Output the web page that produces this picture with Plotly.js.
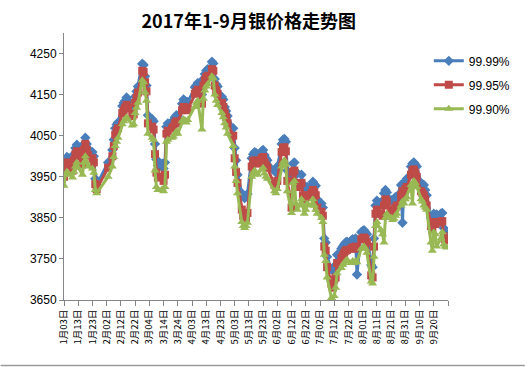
<!DOCTYPE html>
<html>
<head>
<meta charset="utf-8">
<script src="https://cdn.plot.ly/plotly-3.0.1.min.js"></script>
<style>html,body{margin:0;padding:0;background:#fff}#chart{width:528px;height:367px}</style>
</head>
<body>
<div id="chart"></div>
<script>
var tradeDates = [
"2017-01-03","2017-01-04","2017-01-05","2017-01-06","2017-01-09","2017-01-10","2017-01-11","2017-01-12","2017-01-13","2017-01-16","2017-01-17","2017-01-18","2017-01-19","2017-01-20","2017-01-23","2017-01-24","2017-01-25","2017-01-26",
"2017-02-03","2017-02-06","2017-02-07","2017-02-08","2017-02-09","2017-02-10","2017-02-13","2017-02-14","2017-02-15","2017-02-16","2017-02-17","2017-02-20","2017-02-21","2017-02-22","2017-02-23","2017-02-24","2017-02-27","2017-02-28",
"2017-03-01","2017-03-02","2017-03-03","2017-03-06","2017-03-07","2017-03-08","2017-03-09","2017-03-10","2017-03-13","2017-03-14","2017-03-15","2017-03-16","2017-03-17","2017-03-20","2017-03-21","2017-03-22","2017-03-23","2017-03-24","2017-03-27","2017-03-28","2017-03-29","2017-03-30","2017-03-31",
"2017-04-05","2017-04-06","2017-04-07","2017-04-10","2017-04-11","2017-04-12","2017-04-13","2017-04-14","2017-04-17","2017-04-18","2017-04-19","2017-04-20","2017-04-21","2017-04-24","2017-04-25","2017-04-26","2017-04-27","2017-04-28",
"2017-05-02","2017-05-03","2017-05-04","2017-05-05","2017-05-08","2017-05-09","2017-05-10","2017-05-11","2017-05-12","2017-05-15","2017-05-16","2017-05-17","2017-05-18","2017-05-19","2017-05-22","2017-05-23","2017-05-24","2017-05-25","2017-05-26","2017-05-31",
"2017-06-01","2017-06-02","2017-06-05","2017-06-06","2017-06-07","2017-06-08","2017-06-09","2017-06-12","2017-06-13","2017-06-14","2017-06-15","2017-06-16","2017-06-19","2017-06-20","2017-06-21","2017-06-22","2017-06-23","2017-06-26","2017-06-27","2017-06-28","2017-06-29","2017-06-30",
"2017-07-03","2017-07-04","2017-07-05","2017-07-06","2017-07-07","2017-07-10","2017-07-11","2017-07-12","2017-07-13","2017-07-14","2017-07-17","2017-07-18","2017-07-19","2017-07-20","2017-07-21","2017-07-24","2017-07-25","2017-07-26","2017-07-27","2017-07-28","2017-07-31",
"2017-08-01","2017-08-02","2017-08-03","2017-08-04","2017-08-07","2017-08-08","2017-08-09","2017-08-10","2017-08-11","2017-08-14","2017-08-15","2017-08-16","2017-08-17","2017-08-18","2017-08-21","2017-08-22","2017-08-23","2017-08-24","2017-08-25","2017-08-28","2017-08-29","2017-08-30","2017-08-31",
"2017-09-01","2017-09-04","2017-09-05","2017-09-06","2017-09-07","2017-09-08","2017-09-11","2017-09-12","2017-09-13","2017-09-14","2017-09-15","2017-09-18","2017-09-19","2017-09-20","2017-09-21","2017-09-22","2017-09-25","2017-09-26","2017-09-27","2017-09-28","2017-09-29"
];

var ag9999 = [
3958,3990,3998,3995,3985,4005,4020,4028,4015,3995,4030,4045,4030,4018,4010,4000,3945,3930,
3985,4015,4040,4068,4077,4082,4122,4130,4135,4143,4135,4112,4118,4145,4158,4170,4225,4222,
4195,4172,4100,4090,4085,4030,3992,3978,3982,3970,3985,4072,4080,4082,4088,4095,4100,4098,4128,4138,4135,4130,4132,
4168,4172,4178,4150,4188,4200,4208,4212,4230,4226,4188,4175,4170,4145,4138,4120,4110,4098,
4068,4020,3990,3955,3910,3905,3898,3902,3908,3995,4005,4010,4008,4003,4012,4015,4003,3995,3990,3965,
3960,3975,4030,4040,4042,4035,3965,3950,3982,3985,3962,3958,3955,3925,3928,3922,3925,3930,3938,3932,3928,3895,
3885,3875,3800,3790,3755,3725,3722,3730,3735,3760,3775,3780,3785,3790,3792,3795,3798,3795,3800,3712,3815,
3818,3820,3815,3810,3735,3730,3800,3880,3892,3888,3890,3910,3918,3912,3893,3890,3895,3900,3902,3930,3838,3935,3940,
3945,3975,3982,3985,3980,3975,3935,3932,3930,3918,3905,3850,3845,3860,3855,3858,3860,3862,3825,3815,3810
];

var ag9995 = [
3950,3978,3985,3982,3965,3990,4005,4012,4000,3980,4015,4030,4015,4002,3995,3985,3932,3920,
3972,4000,4025,4052,4062,4068,4105,4112,4118,4125,4118,4098,4102,4130,4142,4155,4208,4205,
4180,4158,4080,4072,4065,4005,3960,3948,3950,3940,3955,4055,4062,4068,4072,4080,4085,4082,4112,4120,4118,4112,4115,
4152,4156,4162,4128,4172,4185,4192,4196,4212,4208,4172,4160,4152,4130,4120,4105,4095,4080,
4050,3995,3962,3935,3870,3855,3845,3850,3862,3975,3988,3990,3988,3982,3995,3998,3985,3978,3972,3930,
3925,3940,4010,4020,4022,4012,3940,3875,3962,3965,3935,3925,3935,3905,3895,3900,3905,3910,3918,3912,3905,3875,
3865,3855,3780,3770,3730,3690,3680,3700,3705,3740,3752,3758,3765,3770,3772,3775,3778,3775,3780,3778,3798,
3800,3802,3798,3790,3710,3705,3780,3860,3870,3860,3855,3880,3895,3890,3870,3862,3868,3875,3880,3905,3915,3912,3920,
3925,3955,3965,3968,3960,3950,3915,3910,3905,3895,3880,3830,3820,3840,3835,3838,3840,3842,3805,3798,3795
];

var ag9990 = [
3928,3955,3962,3958,3948,3962,3975,3985,3972,3955,3985,4000,3985,3975,3970,3960,3918,3910,
3950,3975,3998,4025,4035,4045,4078,4085,4090,4095,4090,4075,4078,4105,4118,4130,4185,4180,
4155,4135,4055,4045,4040,3965,3925,3918,3920,3915,3925,4035,4040,4045,4048,4055,4060,4055,4085,4090,4088,4082,4088,
4120,4130,4135,4065,4140,4160,4170,4175,4195,4190,4150,4135,4125,4105,4095,4080,4070,4055,
4025,3975,3940,3910,3840,3830,3825,3830,3838,3950,3960,3965,3960,3955,3968,3972,3958,3950,3945,3915,
3910,3920,3975,3985,3990,3980,3915,3862,3935,3940,3885,3870,3895,3880,3860,3870,3885,3880,3895,3880,3870,3860,
3850,3840,3760,3745,3705,3655,3650,3660,3680,3715,3728,3735,3740,3745,3748,3740,3745,3740,3745,3742,3775,
3778,3780,3775,3765,3695,3690,3755,3830,3840,3820,3810,3790,3850,3860,3850,3845,3848,3855,3860,3880,3890,3885,3895,
3900,3930,3885,3940,3935,3925,3895,3890,3880,3875,3870,3790,3770,3815,3810,3780,3800,3815,3785,3780,3778
];

var seriesNames = ["99.99%", "99.95%", "99.90%"];

var tickDates = ["2017-01-03","2017-01-13","2017-01-23","2017-02-02","2017-02-12","2017-02-22","2017-03-04","2017-03-14","2017-03-24","2017-04-03","2017-04-13","2017-04-23","2017-05-03","2017-05-13","2017-05-23","2017-06-02","2017-06-12","2017-06-22","2017-07-02","2017-07-12","2017-07-22","2017-08-01","2017-08-11","2017-08-21","2017-08-31","2017-09-10","2017-09-20","2017-09-30"];
var tickLabels = ["1月03日","1月13日","1月23日","2月02日","2月12日","2月22日","3月04日","3月14日","3月24日","4月03日","4月13日","4月23日","5月03日","5月13日","5月23日","6月02日","6月12日","6月22日","7月02日","7月12日","7月22日","8月01日","8月11日","8月21日","8月31日","9月10日","9月20日",""];

var styles = [
  {color:"#4A7EBB", symbol:"diamond", size:8},
  {color:"#BE4B48", symbol:"square", size:8},
  {color:"#98B954", symbol:"triangle-up", size:8}
];
var values = [ag9999, ag9995, ag9990];

var traces = values.map(function(v, i){
  return {
    x: tradeDates, y: v, name: seriesNames[i], type: "scatter", mode: "lines+markers",
    legendgroup: "g" + i,
    line: {color: styles[i].color, width: 3},
    marker: {color: styles[i].color, symbol: styles[i].symbol, size: styles[i].size, line: {width: 0}}
  };
});

var layout = {
  width: 528, height: 367,
  margin: {l: 64, r: 76, t: 33, b: 67},
  paper_bgcolor: "#fff", plot_bgcolor: "#fff",
  title: {text: "2017年1-9月银价格走势图", font: {family: "Noto Sans CJK SC", size: 18, color: "#000", weight: "bold"},
          x: 0.481, xanchor: "center", xref: "paper", y: 0.94, yanchor: "middle", yref: "container"},
  xaxis: {
    type: "date", range: ["2017-01-03", "2017-09-30"],
    tickmode: "array", tickvals: tickDates, ticktext: tickLabels, tickangle: -90,
    ticks: "outside", ticklen: 5, tickcolor: "#868686", showline: true, linecolor: "#868686", linewidth: 1,
    showgrid: false, zeroline: false,
    tickfont: {family: "Noto Sans CJK SC", size: 9.5, color: "#000"}
  },
  yaxis: {
    range: [3650, 4300], tickvals: [3650,3750,3850,3950,4050,4150,4250],
    ticks: "outside", ticklen: 4, tickcolor: "#868686", showline: true, linecolor: "#868686", linewidth: 1,
    showgrid: false, zeroline: false,
    tickfont: {family: "Liberation Sans", size: 12, color: "#000"}
  },
  legend: {x: 0.95, xanchor: "left", y: 0.95, yanchor: "top", font: {family: "Liberation Sans", size: 12, color: "#000"},
           tracegroupgap: 5, itemwidth: 30, bgcolor: "rgba(0,0,0,0)"},
  shapes: [{type: "line", xref: "paper", yref: "paper", x0: -0.165, x1: 1.2, y0: -0.245, y1: -0.245, line: {color: "#9a9a9a", width: 1.5}}]
};

Plotly.newPlot("chart", traces, layout, {displayModeBar: false, staticPlot: true});
</script>
</body>
</html>
